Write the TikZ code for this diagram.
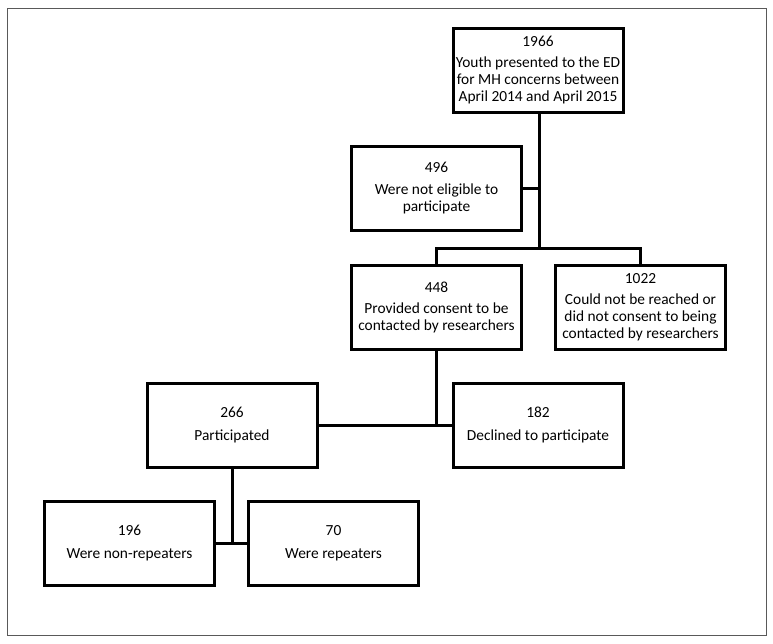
\documentclass[tikz,border=0pt]{standalone}
\usepackage{fontspec}
\setmainfont{Carlito}
\usepackage{tikz}

\begin{document}
\begin{tikzpicture}[x=1pt,y=-1pt]
            \tikzstyle{box}=[draw=black,line width=3pt,minimum width=170pt,minimum height=84pt,inner sep=1pt,align=center,font=\fontsize{15.4}{17}\selectfont]
            \tikzstyle{link}=[line width=3pt]
    \useasboundingbox (0,0) rectangle (773,643);
    \draw[gray!70!black,line width=0.9pt] (7,8) rectangle (766,635);
    \node[box] (all) at (538,70.5) {1966\\[4pt]Youth presented to the ED\\for MH concerns between\\April 2014 and April 2015};
    \node[box] (noteligible) at (436.5,188.5) {496\\[5pt]Were not eligible to\\participate};
    \node[box] (consent) at (436.5,307) {448\\[4pt]Provided consent to be\\contacted by researchers};
    \node[box] (noreach) at (640.5,307) {1022\\[4pt]Could not be reached or\\did not consent to being\\contacted by researchers};
    \node[box] (part) at (232,425) {266\\[6pt]Participated};
    \node[box] (declined) at (538,425) {182\\[6pt]Declined to participate};
    \node[box] (nonrep) at (129.5,543) {196\\[6pt]Were non-repeaters};
    \node[box] (rep) at (333.5,543) {70\\[6pt]Were repeaters};
    % connectors
    \coordinate (split) at (539,248);
    \draw[link] (all.south -| split) -- (split);
    \draw[link] (noteligible.east) -- (noteligible.east -| split);
    \draw[link] (consent.north) |- (split) -| (noreach.north);
    \draw[link] (consent.south) -- (consent.south |- part.east);
    \draw[link] (part.east) -- (declined.west);
    \draw[link] (part.south) -- (part.south |- nonrep.east);
    \draw[link] (nonrep.east) -- (rep.west);
\end{tikzpicture}
\end{document}
